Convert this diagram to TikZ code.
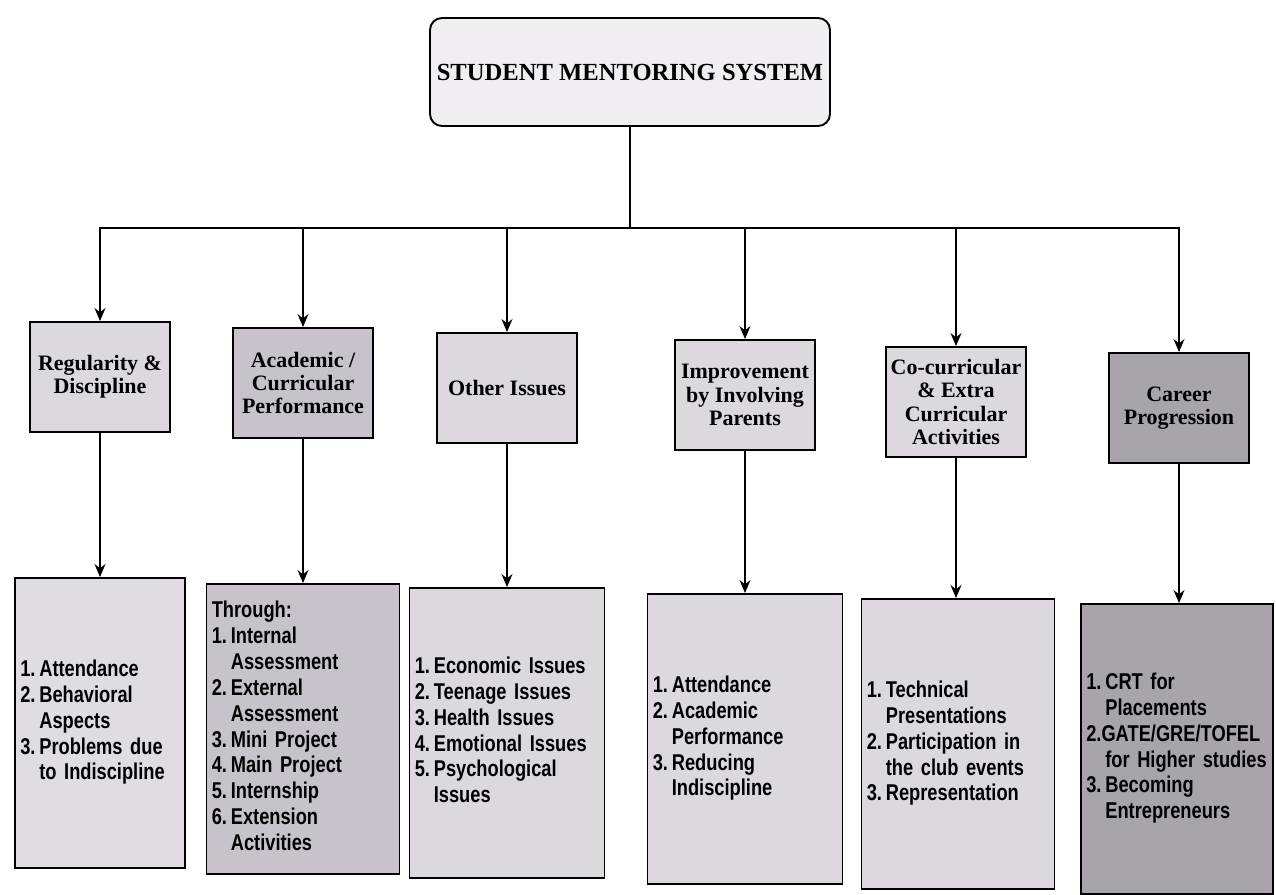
\documentclass[tikz,border=0pt]{standalone}
\usepackage{fontspec}
\usepackage{xcolor}
\usepackage{tikz}
\usetikzlibrary{arrows.meta}
\setmainfont{Liberation Serif}
\newfontfamily\listfont[FakeStretch=0.8,WordSpace=0.65]{Liberation Sans}
\definecolor{boxlight}{HTML}{DCD8DE}
\definecolor{boxmid}{HTML}{C8C3CB}
\definecolor{boxdark}{HTML}{A8A4AA}
\definecolor{toplight}{HTML}{F0EEF1}
\definecolor{listlight}{HTML}{E0DCE2}

\tikzset{
  headbox/.style={draw=black,line width=1.1pt,minimum width=2.8cm,minimum height=2.2cm,
    align=center,inner sep=2pt,
    font=\fontsize{12.5}{13.2}\selectfont\bfseries},
  listbox/.style={draw=black,line width=1.1pt,minimum height=5.8cm,inner sep=0pt,
    text width=#1,align=left,
    font=\listfont\fontsize{13}{14.7}\selectfont\bfseries},
  conn/.style={line width=0.8pt,-{Stealth[length=2.6mm,width=2.2mm]}}
}
\newcommand{\itemlist}[1]{\hspace*{3pt}\begin{tabular}{@{}l@{\,}l@{}}#1\end{tabular}}

\begin{document}
\begin{tikzpicture}[x=0.2mm,y=-0.2mm]
                \useasboundingbox[fill=white] (0,0) rectangle (1276,895);
                % top of the tree
                \node[draw=black,line width=1.1pt,rounded corners=2.4mm,fill=toplight,
                      minimum width=8cm,minimum height=2.16cm,
                      font=\fontsize{14}{16}\selectfont\bfseries] (top) at (630,72) {STUDENT MENTORING SYSTEM};
                \coordinate (bus) at (630,228);
                \draw[line width=0.8pt] (top.south) -- (bus);
                % second row
                \node[headbox,fill=boxlight] (m1) at (100,377) {Regularity \&\\ Discipline};
                \node[headbox,fill=boxmid]   (m2) at (303,383) {Academic /\\ Curricular\\ Performance};
                \node[headbox,fill=boxlight] (m3) at (507,388) {Other Issues};
                \node[headbox,fill=boxlight] (m4) at (745,395) {Improvement\\ by Involving\\ Parents};
                \node[headbox,fill=boxlight] (m5) at (956,402) {Co-curricular\\ \& Extra\\ Curricular\\ Activities};
                \node[headbox,fill=boxdark]  (m6) at (1179,408) {Career\\ Progression};
                \foreach \n in {m1,m2,m3,m4,m5,m6}
                  \draw[conn] (bus) -| (\n.north);
                % third row
                \node[listbox=3.4cm,fill=listlight] (b1) at (100,723) {\itemlist{%
                  1. & Attendance\\ 2. & Behavioral\\ & Aspects\\ 3. & Problems due\\ & to Indiscipline}};
                \node[listbox=3.86cm,fill=boxmid] (b2) at (303,729) {\itemlist{%
                  \multicolumn{2}{@{}l@{}}{Through:}\\ 1. & Internal\\ & Assessment\\ 2. & External\\ & Assessment\\
                  3. & Mini Project\\ 4. & Main Project\\ 5. & Internship\\ 6. & Extension\\ & Activities}};
                \node[listbox=3.9cm,fill=boxlight] (b3) at (507,733) {\itemlist{%
                  1. & Economic Issues\\ 2. & Teenage Issues\\ 3. & Health Issues\\ 4. & Emotional Issues\\
                  5. & Psychological\\ & Issues}};
                \node[listbox=3.9cm,fill=boxlight] (b4) at (745,739) {\itemlist{%
                  1. & Attendance\\ 2. & Academic\\ & Performance\\ 3. & Reducing\\ & Indiscipline}};
                \node[listbox=3.86cm,fill=boxlight] (b5) at (958,744) {\itemlist{%
                  1. & Technical\\ & Presentations\\ 2. & Participation in\\ & the club events\\ 3. & Representation}};
                \node[listbox=3.84cm,fill=boxdark] (b6) at (1177,749) {\itemlist{%
                  1. & CRT for\\ & Placements\\ \multicolumn{2}{@{}l@{}}{2.GATE/GRE/TOFEL}\\ & for Higher studies\\
                  3. & Becoming\\ & Entrepreneurs}};
                \foreach \i in {1,...,6}
                  \draw[conn] (m\i.south) -- (m\i.south |- b\i.north);
            \end{tikzpicture}
\end{document}
